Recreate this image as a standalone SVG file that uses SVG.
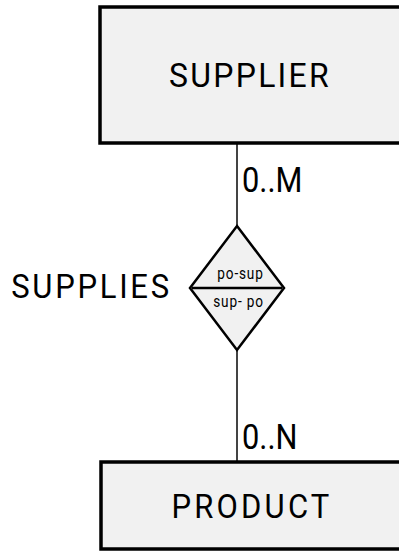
<svg xmlns="http://www.w3.org/2000/svg" width="399" height="552" viewBox="0 0 399 552">
  <style>
    .entity { fill: #f1f1f1; stroke: #000; stroke-width: 3.5; }
    .rel { fill: #f1f1f1; stroke: #000; stroke-width: 2.5; stroke-linejoin: miter; }
    .link { stroke: #444; stroke-width: 2; fill: none; }
    .big { font-family: Roboto, "Liberation Sans", sans-serif; font-size: 34px; fill: #000; }
    .small { font-family: Roboto, "Liberation Sans", sans-serif; font-size: 16px; fill: #000; }
  </style>
  <rect width="399" height="552" fill="#fff"/>

  <!-- connectors with their cardinality labels -->
  <g id="connectors">
    <line class="link" x1="237" y1="143" x2="237" y2="226"/>
    <line class="link" x1="237" y1="350" x2="237" y2="462"/>
    <text class="big" transform="translate(242,192) scale(0.88,1)" style="font-size:35px">0..M</text>
    <text class="big" transform="translate(242,449) scale(0.88,1)" style="font-size:35px">0..N</text>
  </g>

  <!-- entity: SUPPLIER -->
  <g id="supplier">
    <rect class="entity" x="100" y="7" width="310" height="136"/>
    <text class="big" transform="translate(250,87) scale(0.94,1)" text-anchor="middle" letter-spacing="2.4">SUPPLIER</text>
  </g>

  <!-- relationship: SUPPLIES -->
  <g id="supplies">
    <polygon class="rel" points="237,226 284,288 237,350 190,288"/>
    <line x1="192" y1="288" x2="282" y2="288" stroke="#000" stroke-width="2.5"/>
    <text class="small" transform="translate(240.5,279) scale(0.85,1)" text-anchor="middle" letter-spacing="1">po-sup</text>
    <text class="small" transform="translate(238.5,307) scale(0.85,1)" text-anchor="middle" letter-spacing="1">sup- po</text>
    <text class="big" transform="translate(91.5,298) scale(0.94,1)" text-anchor="middle" letter-spacing="2.9" style="font-size:33px">SUPPLIES</text>
  </g>

  <!-- entity: PRODUCT -->
  <g id="product">
    <rect class="entity" x="101" y="462" width="310" height="87"/>
    <text class="big" transform="translate(252,518) scale(0.94,1)" text-anchor="middle" letter-spacing="3.4" style="font-size:33px">PRODUCT</text>
  </g>
</svg>
